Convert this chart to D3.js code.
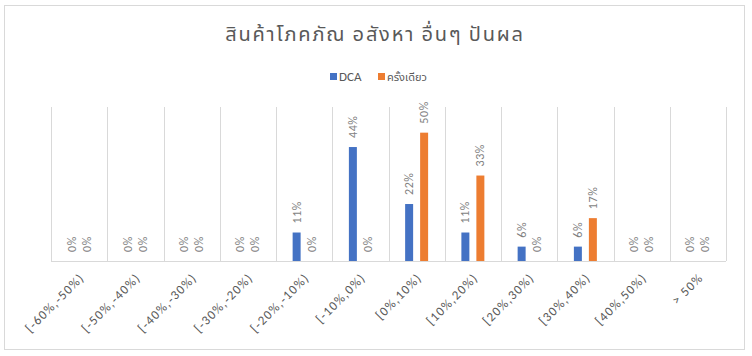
<!DOCTYPE html>
<html><head><meta charset="utf-8">
<script src="https://cdn.jsdelivr.net/npm/d3@7"></script>
<style>body{margin:0;background:#fff;}svg{display:block;}</style>
</head><body>
<script>
const categories = ["[-60%,-50%)","[-50%,-40%)","[-40%,-30%)","[-30%,-20%)","[-20%,-10%)","[-10%,0%)","[0%,10%)","[10%,20%)","[20%,30%)","[30%,40%)","[40%,50%)","> 50%"];
const seriesNames = ["DCA","ครั้งเดียว"];
const dcaValues = [0,0,0,0,0.111,0.444,0.222,0.111,0.056,0.056,0,0];
const onceValues = [0,0,0,0,0,0,0.5,0.333,0,0.167,0,0];
const colors = ["#4472C4","#ED7D31"];
const title = "สินค้าโภคภัณ อสังหา อื่นๆ ปันผล";

(function(){
const W = 752, H = 356;
const svg = d3.select("body").append("svg").attr("width", W).attr("height", H);
const font = "Calibri, Carlito, 'Noto Sans', 'Noto Sans Thai', sans-serif";

svg.append("rect").attr("x",4.5).attr("y",5.5).attr("width",740).attr("height",344)
  .attr("fill","#fff").attr("stroke","#d9d9d9").attr("stroke-width",1);

const pl = 51, pr = 726, pt = 107, pb = 261;
const x = d3.scaleBand().domain(categories).range([pl, pr]).paddingInner(0).paddingOuter(0);
const xs = d3.scaleBand().domain(seriesNames).range([0, x.bandwidth()]).paddingInner(0.467).paddingOuter(1.11);
const y = d3.scaleLinear().domain([0, 0.6]).range([pb, pt]);

const bounds = categories.map(c => x(c)).concat([pr]);
svg.append("g").selectAll("line").data(bounds).join("line")
  .attr("x1", d => Math.round(d) + 0.5).attr("x2", d => Math.round(d) + 0.5)
  .attr("y1", pt).attr("y2", pb)
  .attr("stroke", "#d9d9d9").attr("stroke-width", 1);

const xAxis = d3.axisBottom(x).tickSize(0).tickPadding(0);
const gx = svg.append("g").attr("transform", `translate(0,${pb + 0.5})`).call(xAxis);
gx.select(".domain").attr("stroke", "#d9d9d9").attr("d", `M${pl},0H${pr}`);
gx.selectAll("text")
  .attr("font-family", font).attr("font-size", 13).attr("fill", "#595959")
  .attr("letter-spacing", "1.2px")
  .attr("text-anchor", "end").attr("dy", null).attr("y", 0)
  .attr("transform", "translate(6,17) rotate(-45)");

const series = [dcaValues, onceValues];
series.forEach((vals, si) => {
  const g = svg.append("g");
  g.selectAll("rect").data(vals).join("rect")
    .attr("x", (d, i) => x(categories[i]) + xs(seriesNames[si]))
    .attr("width", xs.bandwidth())
    .attr("y", d => y(d))
    .attr("height", d => pb - y(d))
    .attr("fill", colors[si]);
  g.selectAll("text").data(vals).join("text")
    .attr("transform", (d, i) => `translate(${x(categories[i]) + xs(seriesNames[si]) + xs.bandwidth()/2 + 4},${y(d) - 9}) rotate(-90)`)
    .attr("font-family", font).attr("font-size", 12).attr("fill", "#7f7f7f")
    .attr("letter-spacing", "0.6px")
    .text(d => d3.format(".0%")(d));
});

svg.append("text").attr("x", 375).attr("y", 41).attr("text-anchor", "middle")
  .attr("font-family", font).attr("font-size", 20).attr("fill", "#595959")
  .attr("letter-spacing", "1.8px").text(title);

const legendItems = [{name: seriesNames[0], x: 330}, {name: seriesNames[1], x: 378}];
legendItems.forEach((it, i) => {
  svg.append("rect").attr("x", it.x).attr("y", 73).attr("width", 7).attr("height", 7).attr("fill", colors[i]);
  svg.append("text").attr("x", it.x + 9).attr("y", 81).attr("font-family", font)
    .attr("font-size", i === 0 ? 13 : 11).attr("fill", "#595959").text(it.name);
});
})();
</script>
</body></html>
